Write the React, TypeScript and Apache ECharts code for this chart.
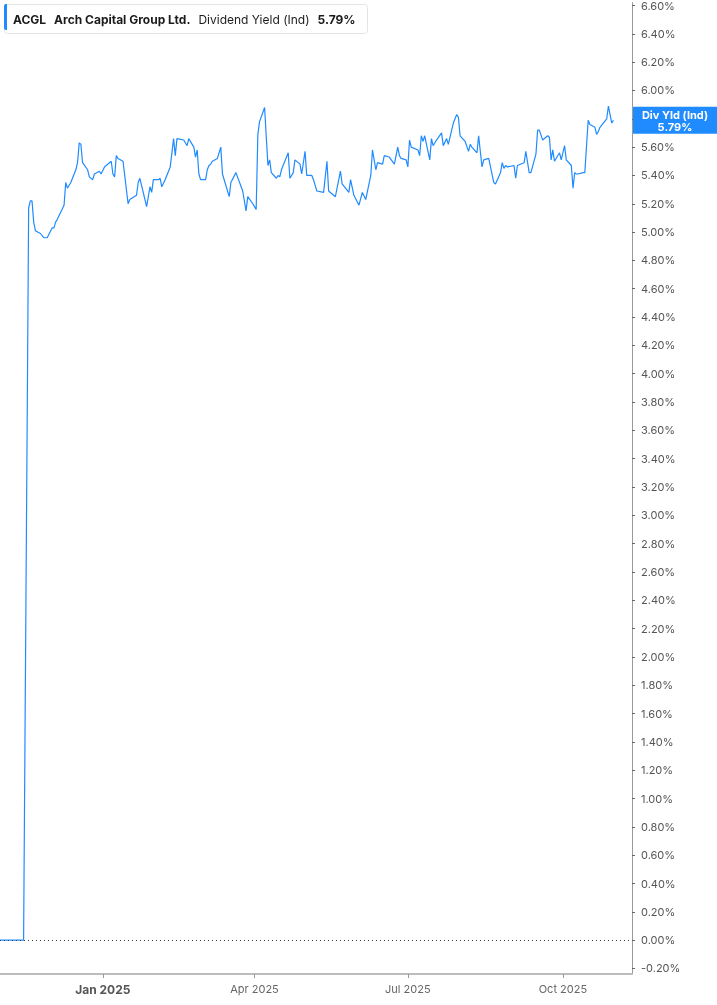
import { useEffect, useRef } from 'react';
import * as echarts from 'echarts';

const dates = [
  '2024-11-01', '2024-11-15', '2024-11-18', '2024-11-19', '2024-11-20', '2024-11-21', '2024-11-22', '2024-11-25',
  '2024-11-27', '2024-11-29', '2024-12-02', '2024-12-03', '2024-12-04', '2024-12-05', '2024-12-09', '2024-12-10',
  '2024-12-11', '2024-12-13', '2024-12-16', '2024-12-17', '2024-12-18', '2024-12-19', '2024-12-20', '2024-12-23',
  '2024-12-24', '2024-12-26', '2024-12-27', '2024-12-30', '2024-12-31', '2025-01-02', '2025-01-03', '2025-01-06',
  '2025-01-07', '2025-01-08', '2025-01-09', '2025-01-10', '2025-01-13', '2025-01-14', '2025-01-16', '2025-01-17',
  '2025-01-21', '2025-01-22', '2025-01-23', '2025-01-27', '2025-01-29', '2025-01-30', '2025-01-31', '2025-02-03',
  '2025-02-04', '2025-02-05', '2025-02-07', '2025-02-10', '2025-02-12', '2025-02-13', '2025-02-14', '2025-02-18',
  '2025-02-20', '2025-02-21', '2025-02-24', '2025-02-25', '2025-02-26', '2025-02-27', '2025-02-28', '2025-03-03',
  '2025-03-04', '2025-03-05', '2025-03-06', '2025-03-07', '2025-03-10', '2025-03-12', '2025-03-13', '2025-03-17',
  '2025-03-18', '2025-03-21', '2025-03-25', '2025-03-27', '2025-03-28', '2025-03-31', '2025-04-01', '2025-04-02',
  '2025-04-03', '2025-04-04', '2025-04-07', '2025-04-08', '2025-04-09', '2025-04-10', '2025-04-11', '2025-04-14',
  '2025-04-15', '2025-04-16', '2025-04-17', '2025-04-21', '2025-04-22', '2025-04-24', '2025-04-25', '2025-04-28',
  '2025-04-29', '2025-05-01', '2025-05-02', '2025-05-05', '2025-05-06', '2025-05-08', '2025-05-12', '2025-05-14',
  '2025-05-15', '2025-05-19', '2025-05-22', '2025-05-23', '2025-05-27', '2025-05-28', '2025-05-30', '2025-06-02',
  '2025-06-04', '2025-06-06', '2025-06-09', '2025-06-10', '2025-06-12', '2025-06-13', '2025-06-16', '2025-06-17',
  '2025-06-20', '2025-06-23', '2025-06-25', '2025-06-26', '2025-06-27', '2025-06-30', '2025-07-01', '2025-07-02',
  '2025-07-03', '2025-07-07', '2025-07-08', '2025-07-09', '2025-07-10', '2025-07-11', '2025-07-14', '2025-07-15',
  '2025-07-16', '2025-07-18', '2025-07-21', '2025-07-22', '2025-07-24', '2025-07-25', '2025-07-28', '2025-07-30',
  '2025-07-31', '2025-08-01', '2025-08-04', '2025-08-06', '2025-08-07', '2025-08-08', '2025-08-11', '2025-08-12',
  '2025-08-14', '2025-08-15', '2025-08-18', '2025-08-21', '2025-08-22', '2025-08-25', '2025-08-26', '2025-08-27',
  '2025-08-28', '2025-08-29', '2025-09-02', '2025-09-03', '2025-09-04', '2025-09-08', '2025-09-09', '2025-09-11',
  '2025-09-12', '2025-09-15', '2025-09-16', '2025-09-17', '2025-09-19', '2025-09-22', '2025-09-23', '2025-09-24',
  '2025-09-25', '2025-09-26', '2025-09-29', '2025-09-30', '2025-10-02', '2025-10-03', '2025-10-06', '2025-10-07',
  '2025-10-08', '2025-10-09', '2025-10-10', '2025-10-13', '2025-10-14', '2025-10-16', '2025-10-17', '2025-10-20',
  '2025-10-21', '2025-10-22', '2025-10-23', '2025-10-27', '2025-10-28', '2025-10-30', '2025-10-31',
];

const yieldPct = [
  0, 0, 5.17, 5.22, 5.22, 5.07, 5.01, 4.99,
  4.96, 4.96, 5.03, 5.03, 5.07, 5.09, 5.19, 5.35,
  5.31, 5.35, 5.44, 5.49, 5.63, 5.62, 5.49, 5.44,
  5.39, 5.37, 5.41, 5.43, 5.41, 5.46, 5.47, 5.5,
  5.41, 5.39, 5.54, 5.52, 5.5, 5.4, 5.2, 5.23,
  5.26, 5.35, 5.38, 5.18, 5.32, 5.28, 5.37, 5.37,
  5.38, 5.32, 5.37, 5.46, 5.66, 5.54, 5.66, 5.65,
  5.61, 5.66, 5.6, 5.53, 5.58, 5.41, 5.37, 5.37,
  5.44, 5.47, 5.48, 5.5, 5.52, 5.6, 5.41, 5.25,
  5.35, 5.42, 5.29, 5.15, 5.25, 5.2, 5.18, 5.16,
  5.69, 5.78, 5.88, 5.67, 5.47, 5.51, 5.42, 5.38,
  5.4, 5.39, 5.44, 5.56, 5.38, 5.42, 5.51, 5.48,
  5.41, 5.57, 5.4, 5.4, 5.37, 5.29, 5.28, 5.5,
  5.29, 5.25, 5.43, 5.34, 5.28, 5.37, 5.26, 5.19,
  5.28, 5.23, 5.4, 5.58, 5.44, 5.49, 5.48, 5.54,
  5.53, 5.48, 5.6, 5.54, 5.52, 5.51, 5.46, 5.65,
  5.6, 5.58, 5.54, 5.68, 5.64, 5.68, 5.51, 5.66,
  5.61, 5.65, 5.7, 5.61, 5.66, 5.62, 5.77, 5.83,
  5.81, 5.68, 5.64, 5.57, 5.62, 5.6, 5.56, 5.68,
  5.46, 5.51, 5.52, 5.35, 5.34, 5.42, 5.49, 5.45,
  5.47, 5.46, 5.47, 5.38, 5.47, 5.49, 5.57, 5.42,
  5.42, 5.55, 5.72, 5.72, 5.65, 5.68, 5.67, 5.51,
  5.58, 5.5, 5.56, 5.51, 5.61, 5.51, 5.47, 5.31,
  5.42, 5.41, 5.41, 5.42, 5.42, 5.79, 5.76, 5.74,
  5.69, 5.71, 5.74, 5.8, 5.89, 5.77, 5.79,
];

const xTickDates = ['2025-01-01', '2025-04-01', '2025-07-01', '2025-10-01'];
const yTickValues = Array.from({ length: 35 }, (_, i) => Math.round((-0.2 + i * 0.2) * 100) / 100);
const MONTHS = ['Jan', 'Feb', 'Mar', 'Apr', 'May', 'Jun', 'Jul', 'Aug', 'Sep', 'Oct', 'Nov', 'Dec'];

const lastValue = yieldPct[yieldPct.length - 1];
const BLUE = '#1f8bff';
const FONT = 'Inter, Roboto, sans-serif';

const toTime = (s: string) => {
  const [y, m, d] = s.split('-').map(Number);
  return new Date(y, m - 1, d).getTime();
};

export default function App() {
  const chartRef = useRef<HTMLDivElement>(null);

  useEffect(() => {
    if (!chartRef.current) return;
    const chart = echarts.init(chartRef.current, undefined, { renderer: 'svg' });

    const option: echarts.EChartsOption = {
      animation: false,
      textStyle: { fontFamily: FONT },
      grid: { left: 0, right: 85, top: 0, bottom: 31, containLabel: false },
      title: {
        left: 4,
        top: 4,
        padding: [6, 12, 6, 9],
        backgroundColor: '#ffffff',
        borderColor: '#e4e4e4',
        borderWidth: 1,
        borderRadius: 3,
        text: '{b|ACGL}{g|}{b|Arch Capital Group Ltd.}{g|}{n|Dividend Yield (Ind)}{g|}{b|5.79%}',
        textStyle: {
          rich: {
            b: { fontFamily: FONT, fontSize: 12, fontWeight: 'bold', color: '#1b1b1b', lineHeight: 14 },
            n: { fontFamily: FONT, fontSize: 12, fontWeight: 'normal', color: '#1b1b1b', lineHeight: 14 },
            g: { width: 8 },
          },
        },
      },
      graphic: [
        { type: 'rect', left: 4, top: 4, shape: { width: 3, height: 26, r: [2, 0, 0, 2] }, style: { fill: BLUE }, z: 100 },
      ],
      xAxis: {
        type: 'value',
        min: toTime('2024-11-01'),
        max: toTime('2025-11-11'),
        axisLine: { show: true, onZero: false, lineStyle: { color: '#bcbcbc', width: 2 } },
        axisTick: {
          show: true,
          length: 4,
          lineStyle: { color: '#999999' },
          customValues: xTickDates.map(toTime),
        },
        splitLine: { show: false },
        axisLabel: {
          customValues: xTickDates.map(toTime),
          margin: 9,
          formatter: (v: number) => {
            const d = new Date(v);
            const txt = `${MONTHS[d.getMonth()]} ${d.getFullYear()}`;
            return d.getMonth() === 0 ? `{y|${txt}}` : `{m|${txt}}`;
          },
          rich: {
            y: { fontFamily: FONT, fontSize: 12, fontWeight: 'bold', color: '#555555' },
            m: { fontFamily: FONT, fontSize: 11, color: '#666666' },
          },
        },
      },
      yAxis: {
        type: 'value',
        position: 'right',
        min: -0.239,
        max: 6.621,
        axisLine: { show: true, lineStyle: { color: '#9a9a9a' } },
        axisTick: { show: true, length: 3, lineStyle: { color: '#666666' }, customValues: yTickValues },
        splitLine: { show: false },
        axisLabel: {
          customValues: yTickValues,
          margin: 9,
          color: '#555555',
          fontSize: 11,
          fontFamily: FONT,
          formatter: (v: number) => `${v.toFixed(2)}%`,
        },
      },
      series: [
        {
          type: 'line',
          data: dates.map((d, i) => [toTime(d), yieldPct[i]]),
          showSymbol: false,
          symbol: 'none',
          lineStyle: { color: BLUE, width: 1.2 },
          z: 3,
          markLine: {
            silent: true,
            symbol: 'none',
            z: 10,
            data: [
              {
                yAxis: 0,
                lineStyle: { color: '#444444', type: [1, 3], width: 1 },
                label: { show: false },
              },
              {
                yAxis: lastValue,
                lineStyle: { color: 'transparent', width: 0 },
                label: {
                  show: true,
                  position: 'end',
                  distance: 1,
                  backgroundColor: BLUE,
                  padding: [2, 6, 1, 6],
                  formatter: `{a|Div Yld (Ind)}\n{a|${lastValue.toFixed(2)}%}`,
                  rich: {
                    a: {
                      width: 72,
                      align: 'center',
                      color: '#ffffff',
                      fontFamily: FONT,
                      fontSize: 11,
                      fontWeight: 'bold',
                      lineHeight: 12,
                    },
                  },
                },
              },
            ],
          },
        },
      ],
    };

    chart.setOption(option);
    return () => chart.dispose();
  }, []);

  return <div ref={chartRef} style={{ position: 'fixed', left: 0, top: 0, width: 717, height: 1005 }} />;
}
